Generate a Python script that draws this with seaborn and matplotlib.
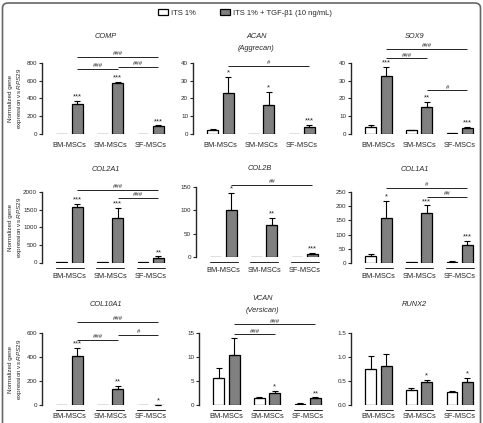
import matplotlib
matplotlib.use('Agg')
import matplotlib.pyplot as plt
from matplotlib.patches import Patch, FancyBboxPatch
import numpy as np
import pandas as pd
import seaborn as sns

sns.set_style('ticks')
plt.rcParams['font.family'] = ['Liberation Sans', 'DejaVu Sans']
plt.rcParams['mathtext.fontset'] = 'custom'
plt.rcParams['mathtext.it'] = 'Liberation Sans:italic'
plt.rcParams['mathtext.rm'] = 'Liberation Sans'

GROUPS = ['BM-MSCs', 'SM-MSCs', 'SF-MSCs']
CONDITIONS = ['ITS 1%', 'ITS 1% + TGF-β1 (10 ng/mL)']
COLORS = ['white', '#808080']

# --- values: mean and SD per group (BM, SM, SF) ---
comp_its, comp_its_sd = [3, 3, 5], [0, 0, 0]
comp_tgf, comp_tgf_sd = [335, 575, 85], [42, 10, 12]
comp_stars = ['***', '***', '***']
comp_brackets = [(0, 2, '###', 868), (0, 1, '###', 735), (1, 2, '###', 755)]
comp_ticks = [0, 200, 400, 600, 800]

acan_its, acan_its_sd = [2.0, 0.1, 0.1], [0.8, 0, 0]
acan_tgf, acan_tgf_sd = [23, 16.5, 4], [9, 7, 1]
acan_stars = ['*', '*', '***']
acan_brackets = [(0, 2, '#', 38.3)]
acan_ticks = [0, 10, 20, 30, 40]

sox9_its, sox9_its_sd = [4.2, 2.0, 0.4], [0.9, 0.4, 0]
sox9_tgf, sox9_tgf_sd = [32.5, 15, 3.3], [5.5, 3, 0.5]
sox9_stars = ['***', '**', '***']
sox9_brackets = [(0, 2, '###', 47.7), (0, 1, '###', 42.6), (1, 2, '#', 24.6)]
sox9_ticks = [0, 10, 20, 30, 40]

col2a1_its, col2a1_its_sd = [5, 5, 2], [0, 0, 0]
col2a1_tgf, col2a1_tgf_sd = [1575, 1250, 130], [90, 300, 45]
col2a1_stars = ['***', '***', '**']
col2a1_brackets = [(0, 2, '###', 2070), (1, 2, '###', 1835)]
col2a1_ticks = [0, 500, 1000, 1500, 2000]

col2b_its, col2b_its_sd = [0.5, 0.5, 0.5], [0, 0, 0]
col2b_tgf, col2b_tgf_sd = [101, 68, 7], [37, 16, 2]
col2b_stars = ['*', '**', '***']
col2b_brackets = [(0, 2, '##', 153.6)]
col2b_ticks = [0, 50, 100, 150]

col1a1_its, col1a1_its_sd = [26, 3, 5], [4, 0, 1]
col1a1_tgf, col1a1_tgf_sd = [160, 175, 65], [58, 28, 12]
col1a1_stars = ['*', '***', '***']
col1a1_brackets = [(0, 2, '#', 264), (1, 2, '##', 234)]
col1a1_ticks = [0, 50, 100, 150, 200, 250]

col10a1_its, col10a1_its_sd = [1, 1, 1], [0, 0, 0]
col10a1_tgf, col10a1_tgf_sd = [410, 130, 3], [65, 32, 1]
col10a1_stars = ['***', '**', '*']
col10a1_brackets = [(0, 2, '###', 690), (0, 1, '###', 545), (1, 2, '#', 585)]
col10a1_ticks = [0, 200, 400, 600]

vcan_its, vcan_its_sd = [5.7, 1.55, 0.3], [2.1, 0.15, 0.05]
vcan_tgf, vcan_tgf_sd = [10.4, 2.5, 1.4], [3.5, 0.4, 0.2]
vcan_stars = ['', '*', '**']
vcan_brackets = [(0, 2, '###', 16.8), (0, 1, '###', 14.7)]
vcan_ticks = [0, 5, 10, 15]

runx2_its, runx2_its_sd = [0.76, 0.31, 0.27], [0.27, 0.04, 0.02]
runx2_tgf, runx2_tgf_sd = [0.82, 0.48, 0.48], [0.25, 0.05, 0.08]
runx2_stars = ['', '*', '*']
runx2_brackets = []
runx2_ticks = [0.0, 0.5, 1.0, 1.5]

W, H = 483, 423
AX_W = 127

# (title, subtitle, data..., left px, top px, bottom px, title y px)
panels = [
    ('COMP', None, comp_its, comp_its_sd, comp_tgf, comp_tgf_sd, comp_stars, comp_brackets, comp_ticks, 42, 63, 134, 37),
    ('ACAN', '(Aggrecan)', acan_its, acan_its_sd, acan_tgf, acan_tgf_sd, acan_stars, acan_brackets, acan_ticks, 193, 63, 134, 36),
    ('SOX9', None, sox9_its, sox9_its_sd, sox9_tgf, sox9_tgf_sd, sox9_stars, sox9_brackets, sox9_ticks, 351, 63, 134, 36),
    ('COL2A1', None, col2a1_its, col2a1_its_sd, col2a1_tgf, col2a1_tgf_sd, col2a1_stars, col2a1_brackets, col2a1_ticks, 42, 192, 262.5, 169),
    ('COL2B', None, col2b_its, col2b_its_sd, col2b_tgf, col2b_tgf_sd, col2b_stars, col2b_brackets, col2b_ticks, 196, 187, 257, 168),
    ('COL1A1', None, col1a1_its, col1a1_its_sd, col1a1_tgf, col1a1_tgf_sd, col1a1_stars, col1a1_brackets, col1a1_ticks, 351, 192, 263, 169),
    ('COL10A1', None, col10a1_its, col10a1_its_sd, col10a1_tgf, col10a1_tgf_sd, col10a1_stars, col10a1_brackets, col10a1_ticks, 42, 333, 405, 304),
    ('VCAN', '(Versican)', vcan_its, vcan_its_sd, vcan_tgf, vcan_tgf_sd, vcan_stars, vcan_brackets, vcan_ticks, 199, 333, 405, 298),
    ('RUNX2', None, runx2_its, runx2_its_sd, runx2_tgf, runx2_tgf_sd, runx2_stars, runx2_brackets, runx2_ticks, 351, 333, 405, 304),
]

fig = plt.figure(figsize=(W / 100, H / 100), dpi=100)

for k, (title, sub, its, its_sd, tgf, tgf_sd, stars, brackets, ticks, lpx, tpx, bpx, typx) in enumerate(panels):
    ax = fig.add_axes([lpx / W, 1 - bpx / H, AX_W / W, (bpx - tpx) / H])
    df = pd.DataFrame({
        'group': GROUPS * 2,
        'condition': [CONDITIONS[0]] * 3 + [CONDITIONS[1]] * 3,
        'value': its + tgf,
    })
    sns.barplot(data=df, x='group', y='value', hue='condition', hue_order=CONDITIONS,
                palette=COLORS, saturation=1, width=0.76, gap=0.3, errorbar=None,
                edgecolor='black', linewidth=0.9, legend=False, ax=ax)

    bars = sorted(ax.patches, key=lambda p: p.get_x())
    xs = [p.get_x() + p.get_width() / 2 for p in bars]
    bw = bars[0].get_width()
    x_its, x_tgf = xs[0::2], xs[1::2]

    for xv, m, sd in zip(x_its + x_tgf, its + tgf, its_sd + tgf_sd):
        if sd > 0:
            ax.errorbar(xv, m, yerr=[[0], [sd]], fmt='none', ecolor='black',
                        elinewidth=0.8, capsize=2, capthick=0.8, clip_on=False, zorder=3)

    for xv, m, sd, s in zip(x_tgf, tgf, tgf_sd, stars):
        if s:
            ax.annotate(s, (xv, m + sd), xytext=(0, 0.3), textcoords='offset points',
                        ha='center', va='bottom', fontsize=5.5, annotation_clip=False)

    for i, j, lab, yv in brackets:
        ax.plot([x_tgf[i], x_tgf[j]], [yv, yv], color='#222222', lw=0.7,
                clip_on=False, solid_capstyle='butt')
        ax.annotate(lab, ((x_tgf[i] + x_tgf[j]) / 2, yv), xytext=(0, 0.6),
                    textcoords='offset points', ha='center', va='bottom',
                    fontsize=4.3, annotation_clip=False)

    ax.set_xlim(-0.68, 2.45)
    ax.set_ylim(0, ticks[-1])
    ax.set_yticks(ticks)
    if isinstance(ticks[-1], float):
        ax.set_yticklabels([f'{t:.1f}' for t in ticks])
    else:
        ax.set_yticklabels([str(t) for t in ticks])
    ax.set_xticks([0, 1, 2])
    ax.set_xticklabels(GROUPS)
    ax.set_xlabel('')
    ax.set_ylabel('')
    sns.despine(ax=ax, bottom=True)
    ax.spines['left'].set_linewidth(1.0)
    ax.tick_params(axis='y', labelsize=4.5, length=2.5, width=0.8, pad=1)
    row = k // 3
    xpad = [5.8, 7.2, 5.8][row]
    ax.tick_params(axis='x', labelsize=5.3, length=0, pad=xpad)

    if row > 0:
        for xa, xb in zip(x_its, x_tgf):
            ax.plot([xa - bw / 2 - 0.02, xb + bw / 2 + 0.02], [-0.075, -0.075],
                    transform=ax.get_xaxis_transform(), color='#222222', lw=0.7,
                    clip_on=False)

    if k % 3 == 0:
        ax.set_ylabel('Normalized gene\nexpression vs $\\mathit{RPS29}$', fontsize=4.5,
                      linespacing=1.3)
        ax.yaxis.set_label_coords(-0.145, 0.5)

    cx = (lpx + AX_W / 2) / W
    fig.text(cx, 1 - typx / H, title, ha='center', va='center', fontsize=5.3,
             style='italic')
    if sub:
        fig.text(cx, 1 - (typx + 12.5) / H, sub, ha='center', va='center',
                 fontsize=5.3, style='italic')

handles = [Patch(facecolor=c, edgecolor='black', linewidth=0.9) for c in COLORS]
fig.legend(handles, CONDITIONS, loc='center', bbox_to_anchor=(0.507, 0.969), ncol=2,
           frameon=False, fontsize=5.5, handlelength=1.3, handleheight=0.8,
           handletextpad=0.4, columnspacing=3.2)

frame = FancyBboxPatch((2.5 / W, -0.05), 478 / W, 1 - 3 / H + 0.05,
                       boxstyle='round,pad=0,rounding_size=0.012',
                       transform=fig.transFigure, fill=False, edgecolor='#666666',
                       linewidth=1.2)
fig.patches.append(frame)

fig.savefig('out.png', dpi=100)
